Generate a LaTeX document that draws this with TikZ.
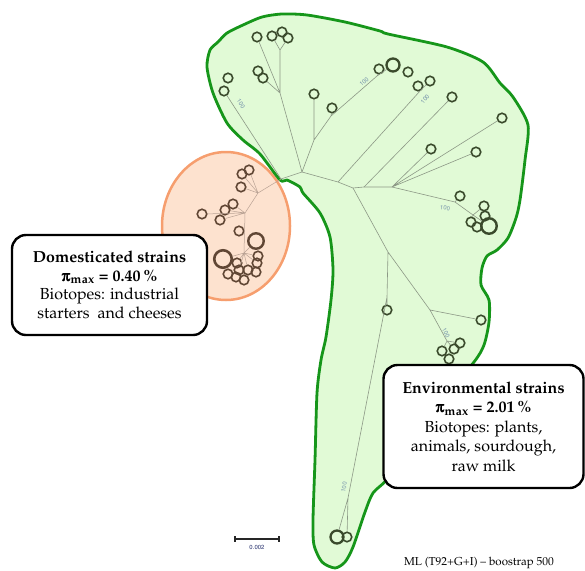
\documentclass[tikz,border=0pt]{standalone}
\usepackage[T1]{fontenc}
\usepackage{mathpazo}
\usepackage[Symbol]{upgreek}
\usetikzlibrary{calc}
\definecolor{greenfill}{RGB}{225,250,214}
\definecolor{greenline}{RGB}{22,150,26}
\definecolor{orfill}{RGB}{253,226,207}
\definecolor{orline}{RGB}{246,158,110}
\definecolor{envdark}{RGB}{58,74,44}
\definecolor{domdark}{RGB}{96,70,52}
\definecolor{branch}{RGB}{140,152,134}
\definecolor{dbranch}{RGB}{185,162,148}
\definecolor{bootc}{RGB}{120,150,172}
\definecolor{scalec}{RGB}{40,50,110}
\newcommand{\boldpi}{\rlap{$\uppi$}\kern0.35pt\rlap{$\uppi$}\raisebox{0.2pt}{$\uppi$}}
\tikzset{
 envc/.style={circle,draw=envdark,line width=1.6pt,inner sep=0pt,minimum size=9.5pt},
 envbig/.style={envc,minimum size=13pt,line width=2.3pt},
 envhuge/.style={envc,minimum size=15.5pt,line width=2.4pt},
 domc/.style={circle,draw=domdark,line width=1.6pt,inner sep=0pt,minimum size=9.5pt},
 dombig/.style={domc,minimum size=15.5pt,line width=2.4pt},
 domhuge/.style={domc,minimum size=17.5pt,line width=2.6pt},
 br/.style={draw=branch,line width=0.6pt},
 dbr/.style={draw=dbranch,line width=0.5pt},
 boot/.style={font=\fontfamily{phv}\fontsize{6}{6}\selectfont,text=bootc,inner sep=0.5pt},
 infobox/.style={draw=black,line width=2.4pt,fill=white,rounded corners=14pt,align=center,inner sep=0pt},
}
\begin{document}
\begin{tikzpicture}[x=1pt,y=-1pt]
\useasboundingbox (0,0) rectangle (585,570);
% orange ellipse
\draw[fill=orfill,draw=orline,line width=2.5pt] (226,226) ellipse [x radius=64, y radius=74];
% green region
\draw[fill=greenfill,draw=greenline,line width=2.8pt,line join=round]
 plot[smooth cycle,tension=0.45] coordinates {
 (280,180) (260,154) (243,140) (227,123) (213,93) (207,67) (210,50) (218,42) (227,33)
 (243,25) (262,17) (282,14) (307,15) (345,22) (380,31) (388,34) (447,47) (483,62)
 (500,83) (513,97) (528,125) (525,160) (520,200) (516,218) (508,238) (497,250)
 (487,256) (482,268) (481,285) (489,300) (489,322) (484,345) (474,362) (440,402)
 (410,440) (388,478) (373,493) (365,512) (353,547) (345,562) (335,568) (322,562)
 (314,545) (313,520) (315,460) (317,393) (321,360) (326,337) (331,300) (333,270)
 (330,237) (320,213) (303,193) (300,187) (287,180)};
% ---- environmental tree ----
\coordinate (J0) at (281,179);
\coordinate (A) at (302,172);
\coordinate (B) at (338,182);
\coordinate (C) at (353,188);
\coordinate (D) at (364,187);
\coordinate (E) at (392,187);
\coordinate (P1) at (280,93);
\coordinate (P2) at (280,50);
\coordinate (Q) at (314,140);
\coordinate (Q2) at (331,116);
\coordinate (K) at (377,76);
\coordinate (R) at (420,91);
\coordinate (F1) at (455,202);
\coordinate (F2) at (473,215);
\coordinate (G) at (388,252);
\coordinate (H) at (387,297);
\coordinate (L) at (348,498);
\coordinate (I) at (430,310);
\coordinate (M) at (447,341);
\node[envc] (e1) at (257,37) {};
\node[envc] (e2) at (272,36) {};
\node[envc] (e3) at (282,32) {};
\node[envc] (e4) at (288,38) {};
\node[envc] (e5) at (258,71) {};
\node[envc] (e6) at (263,78) {};
\node[envc] (e7) at (228,78) {};
\node[envc] (e8) at (224,91) {};
\node[envc] (e9) at (314,94) {};
\node[envc] (e10) at (332,108) {};
\node[envc] (e11) at (379,69) {};
\node[envbig] (e12) at (393,65) {};
\node[envc] (e13) at (408,72) {};
\node[envc] (e14) at (418,86) {};
\node[envc] (e15) at (430,81) {};
\node[envc] (e16) at (452,97) {};
\node[envc] (e17) at (502,118) {};
\node[envc] (e18) at (431,149) {};
\node[envc] (e19) at (476,152) {};
\node[envc] (e20) at (460,196) {};
\node[envc] (e21) at (484,206) {};
\node[envc] (e22) at (485,216) {};
\node[envc] (e23) at (471,222) {};
\node[envc] (e24) at (477,227) {};
\node[envhuge] (e25) at (489,226) {};
\node[envc] (e26) at (387,310) {};
\node[envc] (e27) at (481,320) {};
\node[envc] (e28) at (460,343) {};
\node[envc] (e29) at (454,349) {};
\node[envc] (e30) at (442,351) {};
\node[envc] (e31) at (449,359) {};
\node[envbig] (e32) at (337,537) {};
\node[envc] (e33) at (347,537) {};
\path[br] (J0) -- (A) -- (B) -- (C) -- (D) -- (E);
\path[br] (A) -- (P1) (P1) -- (e1) (P1) -- (P2) (P2) -- (e2) (P2) -- (e4) (P1) -- (e6);
\path[br] (J0) -- (e8);
\path[br] (A) -- (Q) (Q) -- (e9) (Q) -- (Q2) (Q2) -- (e10) (Q2) -- (K) (K) -- (e11) (K) -- (e12);
\path[br] (B) -- (R) (R) -- (e14) (R) -- (e15);
\path[br] (D) -- (e16);
\path[br] (E) -- (e17) (E) -- (e18) (E) -- (e19);
\path[br] (E) -- (F1) (F1) -- (e20) (F1) -- (F2) (F2) -- (e21) (F2) -- (e23) (F2) -- (e25);
\path[br] (C) -- (G) -- (I) (G) -- (H) (H) -- (e26) (H) -- (L) (L) -- (e32) (L) -- (e33);
\path[br] (I) -- (e27) (I) -- (M) (M) -- (e28) (M) -- (e30) (M) -- (e29);
% bootstrap labels
\node[boot,rotate=-57] (b1) at (241,104) {100};
\node[boot,rotate=40] (b2) at (364,82) {100};
\node[boot,rotate=50] (b3) at (425,99) {100};
\node[boot,rotate=-10] (b4) at (445,208) {100};
\node[boot,rotate=-62] (b5) at (446,333) {100};
\node[boot,rotate=80] (b6) at (344,487) {100};
% ---- domesticated tree ----
\coordinate (G1) at (258,193);
\coordinate (G2) at (245,213);
\coordinate (G3) at (244,253);
\node[domc] (d1) at (249,170) {};
\node[domc] (d2) at (242,174) {};
\node[domc] (d3) at (241,187) {};
\node[domc] (d4) at (233,204) {};
\node[domc] (d5) at (225,210) {};
\node[domc] (d6) at (220,220) {};
\node[domc] (d7) at (202,214) {};
\node[domc] (d8) at (239,231) {};
\node[dombig] (d9) at (256,241) {};
\node[domhuge] (d10) at (223,259) {};
\node[domc] (d11) at (258,256) {};
\node[domc] (d12) at (257,263) {};
\node[domc] (d13) at (256,272) {};
\node[domc] (d14) at (248,270) {};
\node[domc] (d15) at (237,263) {};
\node[domc] (d16) at (239,270) {};
\node[domc] (d17) at (228,274) {};
\node[domc] (d18) at (236,277) {};
\node[domc] (d19) at (244,280) {};
\path[dbr] (J0) -- (G1) (G1) -- (d1) (G1) -- (d2) (G1) -- (d3) (G1) -- (G2);
\path[dbr] (G2) -- (d4) (G2) -- (d5) (G2) -- (d6) (G2) -- (d7) (G2) -- (G3);
\path[dbr] (G3) -- (d10) (G3) -- (d11) (G3) -- (d12) (G3) -- (d14) (G3) -- (d15) (G3) -- (d16) (G3) -- (d9);
% ---- boxes ----
\node[infobox,minimum width=195pt,minimum height=100pt,font=\fontsize{16}{18.7}\selectfont] (dom) at (109.5,285)
 {\textbf{Domesticated strains}\\ \textbf{\boldpi$_{\mathbf{max}}$ = 0.40\,\%}\\ Biotopes: industrial\\ starters~ and cheeses};
\node[infobox,minimum width=200pt,minimum height=123pt,font=\fontsize{16}{19.5}\selectfont] (env) at (483.5,426.5)
 {\textbf{Environmental strains}\\ \textbf{\boldpi$_{\mathbf{max}}$ = 2.01\,\%}\\ Biotopes: plants,\\ animals, sourdough,\\ raw milk};
% ---- scale bar ----
\coordinate (s1) at (235,539);
\coordinate (s2) at (279,539);
\draw[line width=1.2pt,draw=black!85] (s1) -- (s2) ($(s1)+(0,-3)$) -- ($(s1)+(0,3)$) ($(s2)+(0,-3)$) -- ($(s2)+(0,3)$);
\node[font=\fontfamily{phv}\fontsize{6}{6}\selectfont,text=scalec,inner sep=0pt] (sc) at (257,547) {0.002};
% ---- footer ----
\node[font=\fontsize{11.5}{12}\selectfont,inner sep=0pt] (foot) at (479,563) {ML (T92+G+I) -- boostrap 500};
\end{tikzpicture}
\end{document}
